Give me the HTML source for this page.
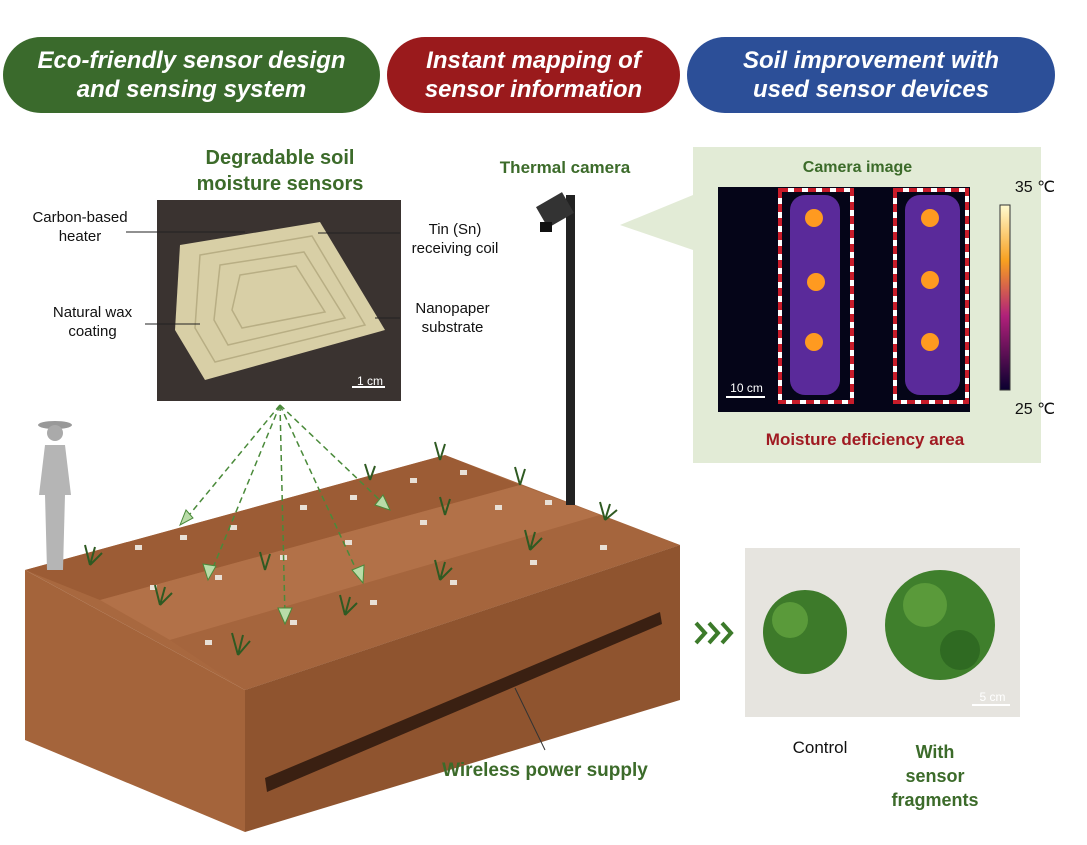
<!DOCTYPE html>
<html><head><meta charset="utf-8"><style>
body{margin:0;width:1087px;height:845px;background:#fff;position:relative;overflow:hidden;font-family:"Liberation Sans",sans-serif}
.pill{position:absolute;top:37px;height:76px;border-radius:38px;color:#fff;font-style:italic;font-weight:bold;font-size:24px;line-height:29px;text-align:center;display:flex;align-items:center;justify-content:center}
.t{position:absolute;font-size:15px;color:#111;text-align:center;line-height:19px}
.g{position:absolute;color:#3c6b2a;font-weight:bold;text-align:center}
</style></head><body>
<div class="pill" style="left:3px;width:377px;background:#3a6a2c">Eco-friendly sensor design<br>and sensing system</div>
<div class="pill" style="left:387px;width:293px;background:#9a1a1c">Instant mapping of<br>sensor information</div>
<div class="pill" style="left:687px;width:368px;background:#2c4f98">Soil improvement with<br>used sensor devices</div>

<div class="g" style="left:160px;top:145px;width:240px;font-size:20px;line-height:26px">Degradable soil<br>moisture sensors</div>
<div class="g" style="left:480px;top:158px;width:170px;font-size:17px">Thermal camera</div>

<svg style="position:absolute;left:0;top:0" width="1087" height="845">
<polygon points="693,147 1041,147 1041,463 693,463 693,250 620,225 693,195" fill="#e2ebd6"/>
<defs><clipPath id="top"><polygon points="25,570 445,455 680,545 245,690"/></clipPath></defs>
<polygon points="25,570 445,455 680,545 245,690" fill="#a8683f"/>
<g clip-path="url(#top)">
<polygon points="25,570 445,455 520,485 100,600" fill="#9c5c35"/>
<polygon points="100,600 520,485 600,515 170,640" fill="#b27148"/>
<polygon points="170,640 600,515 680,545 245,690" fill="#a5653d"/>
<g fill="#e8e0d6">
<rect x="135" y="545" width="7" height="5"/><rect x="180" y="535" width="7" height="5"/><rect x="230" y="525" width="7" height="5"/><rect x="300" y="505" width="7" height="5"/><rect x="350" y="495" width="7" height="5"/><rect x="410" y="478" width="7" height="5"/><rect x="460" y="470" width="7" height="5"/>
<rect x="150" y="585" width="7" height="5"/><rect x="215" y="575" width="7" height="5"/><rect x="280" y="555" width="7" height="5"/><rect x="345" y="540" width="7" height="5"/><rect x="420" y="520" width="7" height="5"/><rect x="495" y="505" width="7" height="5"/><rect x="545" y="500" width="7" height="5"/>
<rect x="205" y="640" width="7" height="5"/><rect x="290" y="620" width="7" height="5"/><rect x="370" y="600" width="7" height="5"/><rect x="450" y="580" width="7" height="5"/><rect x="530" y="560" width="7" height="5"/><rect x="600" y="545" width="7" height="5"/>
<rect x="270" y="685" width="7" height="5"/><rect x="320" y="665" width="7" height="5"/><rect x="420" y="635" width="7" height="5"/><rect x="520" y="605" width="7" height="5"/>
</g></g>
<polygon points="245,690 680,545 680,700 245,832" fill="#8f542f"/>
<polygon points="25,570 245,690 245,832 25,740" fill="#a4643b"/>
<polygon points="265,778 660,612 662,624 267,792" fill="#3a2012"/>
<line x1="515" y1="688" x2="545" y2="750" stroke="#333" stroke-width="1"/>
<g stroke="#2f5a22" stroke-width="2">
<path d="M90,565 l-5,-20 M90,565 l5,-18 M90,565 l12,-12"/><path d="M160,605 l-5,-20 M160,605 l5,-18 M160,605 l12,-12"/><path d="M238,655 l-6,-22 M238,655 l5,-20 M238,655 l12,-14"/>
<path d="M345,615 l-5,-20 M345,615 l5,-18 M345,615 l12,-12"/><path d="M440,580 l-5,-20 M440,580 l5,-18 M440,580 l12,-12"/><path d="M530,550 l-5,-20 M530,550 l5,-18 M530,550 l12,-12"/>
<path d="M265,570 l-5,-18 M265,570 l5,-16"/><path d="M445,515 l-5,-18 M445,515 l5,-16"/><path d="M520,485 l-5,-18 M520,485 l5,-16"/><path d="M605,520 l-5,-18 M605,520 l5,-16 M605,520 l12,-10"/><path d="M440,460 l-5,-18 M440,460 l5,-16"/><path d="M370,480 l-5,-16 M370,480 l5,-14"/>
</g>
<rect x="566" y="195" width="9" height="310" fill="#222"/>
<rect x="540" y="198" width="30" height="24" fill="#333" transform="rotate(-30 555 210)"/>
<rect x="540" y="222" width="12" height="10" fill="#111"/>
<g stroke="#4a8a3a" stroke-width="1.5" stroke-dasharray="6,4" fill="none">
<line x1="280" y1="405" x2="185" y2="520"/><line x1="280" y1="405" x2="210" y2="575"/>
<line x1="280" y1="405" x2="285" y2="618"/><line x1="280" y1="405" x2="360" y2="578"/>
<line x1="280" y1="405" x2="385" y2="505"/></g>
<g fill="#b9dca8" stroke="#4a8a3a"><polygon points="180,525 186,510 193,518"/><polygon points="208,580 203,564 216,566"/><polygon points="285,624 278,608 292,608"/><polygon points="363,583 352,570 364,565"/><polygon points="390,510 375,505 383,495"/></g>
<ellipse cx="55" cy="425" rx="17" ry="4" fill="#999"/><circle cx="55" cy="433" r="8" fill="#aaa"/>
<path d="M45,445 h20 l6,50 h-6 l-2,75 h-16 l-2,-75 h-6z" fill="#b5b5b5"/>
<rect x="157" y="200" width="244" height="201" fill="#3a3330"/>
<polygon points="180,245 320,222 385,330 205,380 175,330" fill="#d8cfa6"/>
<g fill="none" stroke="#b8ae84" stroke-width="1.5"><polygon points="200,255 312,236 365,325 215,362 195,328"/><polygon points="220,265 304,252 345,318 228,345 214,320"/><polygon points="240,275 296,266 325,312 242,328 232,310"/></g>
<line x1="352" y1="387" x2="385" y2="387" stroke="#fff" stroke-width="2"/>
<g stroke="#222" stroke-width="1"><line x1="126" y1="232" x2="245" y2="232"/><line x1="318" y1="233" x2="400" y2="233"/><line x1="145" y1="324" x2="200" y2="324"/><line x1="375" y1="318" x2="400" y2="318"/></g>
<rect x="718" y="187" width="252" height="225" fill="#050518"/>
<rect x="790" y="195" width="50" height="200" rx="15" fill="#5a2a9a"/><rect x="905" y="195" width="55" height="200" rx="15" fill="#5a2a9a"/>
<g fill="#ff9a20"><circle cx="814" cy="218" r="9"/><circle cx="816" cy="282" r="9"/><circle cx="814" cy="342" r="9"/><circle cx="930" cy="218" r="9"/><circle cx="930" cy="280" r="9"/><circle cx="930" cy="342" r="9"/></g>
<g fill="none" stroke="#fff" stroke-width="4"><rect x="780" y="190" width="72" height="212"/><rect x="895" y="190" width="72" height="212"/></g>
<g fill="none" stroke="#c81c2a" stroke-width="4" stroke-dasharray="8,6"><rect x="780" y="190" width="72" height="212"/><rect x="895" y="190" width="72" height="212"/></g>
<defs><linearGradient id="cb" x1="0" y1="0" x2="0" y2="1"><stop offset="0" stop-color="#fffbd0"/><stop offset=".3" stop-color="#f8a020"/><stop offset=".6" stop-color="#b0207a"/><stop offset="1" stop-color="#0a0030"/></linearGradient></defs>
<rect x="1000" y="205" width="10" height="185" fill="url(#cb)" stroke="#333"/>
<line x1="726" y1="397" x2="765" y2="397" stroke="#fff" stroke-width="2"/>
<rect x="745" y="548" width="275" height="169" fill="#e6e4df"/>
<circle cx="805" cy="632" r="42" fill="#3d7a2a"/><circle cx="940" cy="625" r="55" fill="#3f7f2c"/>
<circle cx="790" cy="620" r="18" fill="#5a9a3a"/><circle cx="925" cy="605" r="22" fill="#5a9a3a"/><circle cx="960" cy="650" r="20" fill="#2f6a22"/>
<line x1="972" y1="705" x2="1010" y2="705" stroke="#fff" stroke-width="2"/>
<g fill="none" stroke="#3c7a2a" stroke-width="4"><path d="M696,623 l9,10 l-9,10"/><path d="M709,623 l9,10 l-9,10"/><path d="M722,623 l9,10 l-9,10"/></g>
</svg>

<div class="t" style="left:30px;top:208px;width:100px">Carbon-based<br>heater</div>
<div class="t" style="left:400px;top:220px;width:110px">Tin (Sn)<br>receiving coil</div>
<div class="t" style="left:40px;top:303px;width:105px">Natural wax<br>coating</div>
<div class="t" style="left:400px;top:299px;width:105px">Nanopaper<br>substrate</div>
<div class="t" style="left:350px;top:372px;width:40px;color:#fff;font-size:12px">1 cm</div>
<div class="g" style="left:760px;top:159px;width:195px;font-size:16px">Camera image</div>
<div class="t" style="left:1005px;top:178px;width:60px;font-size:16px">35 ℃</div>
<div class="t" style="left:1005px;top:400px;width:60px;font-size:16px">25 ℃</div>
<div class="t" style="left:724px;top:379px;width:45px;color:#fff;font-size:12px">10 cm</div>
<div class="g" style="left:720px;top:430px;width:290px;font-size:17px;color:#a01a22">Moisture deficiency area</div>
<div class="g" style="left:405px;top:760px;width:280px;font-size:19px">Wireless power supply</div>
<div class="t" style="left:970px;top:688px;width:45px;color:#fff;font-size:12px">5 cm</div>
<div class="t" style="left:770px;top:738px;width:100px;font-size:17px">Control</div>
<div class="g" style="left:880px;top:740px;width:110px;font-size:18px;line-height:24px">With<br>sensor<br>fragments</div>
</body></html>
